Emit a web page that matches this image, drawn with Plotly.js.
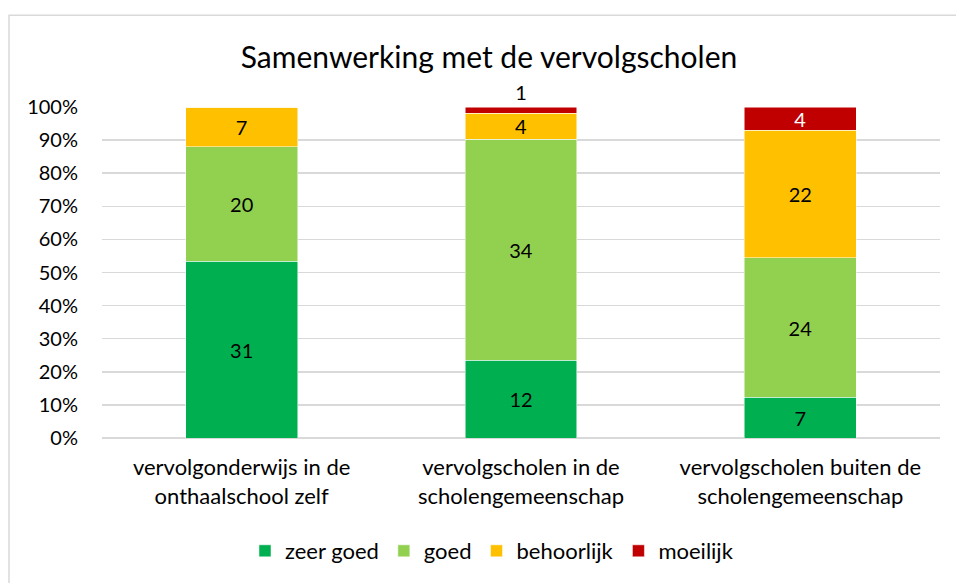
<!DOCTYPE html>
<html>
<head>
<meta charset="utf-8">
<script src="https://cdn.plot.ly/plotly-3.0.1.min.js"></script>
<style>html,body{margin:0;padding:0;background:#fff;}#chart{width:956px;height:583px;}</style>
</head>
<body>
<div id="chart"></div>
<script>
const categories = [
  "vervolgonderwijs in de<br>onthaalschool zelf",
  "vervolgscholen in de<br>scholengemeenschap",
  "vervolgscholen buiten de<br>scholengemeenschap"
];
const seriesNames = ["zeer goed", "goed", "behoorlijk", "moeilijk"];
const zeerGoed = [31, 12, 7];
const goed = [20, 34, 24];
const behoorlijk = [7, 4, 22];
const moeilijk = [0, 1, 4];
const colors = ["#00B050", "#92D050", "#FFC000", "#C00000"];
const yTickVals = [0,10,20,30,40,50,60,70,80,90,100];

const FONT = "Lato, 'Open Sans', sans-serif";
const values = [zeerGoed, goed, behoorlijk, moeilijk];

const traces = values.map((vals, i) => {
  const isTop = i === 3;
  return {
    type: "bar",
    name: seriesNames[i],
    x: categories,
    y: vals,
    text: vals.map(v => v === 0 ? "" : String(v)),
    texttemplate: "%{text}",
    textposition: isTop ? vals.map(v => v === 0 ? "none" : (v === 1 ? "outside" : "inside")) : "inside",
    insidetextanchor: "middle",
    textangle: 0,
    constraintext: "none",
    cliponaxis: false,
    textfont: {family: FONT, size: 20, color: isTop ? vals.map(v => v === 1 ? "#000000" : "#FFFFFF") : "#000000"},
    outsidetextfont: {family: FONT, size: 20, color: "#000000"},
    marker: {color: colors[i], line: {color: "#FFFFFF", width: 0.5}},
    hoverinfo: "skip"
  };
});

const L = 102, R = 16, T = 107, B = 144;
const pw = 956 - L - R, ph = 583 - T - B;

const layout = {
  width: 956, height: 583,
  margin: {l: L, r: R, t: T, b: B, pad: 0},
  paper_bgcolor: "#FFFFFF",
  plot_bgcolor: "#FFFFFF",
  font: {family: FONT, size: 20, color: "#000000"},
  barmode: "stack",
  barnorm: "percent",
  bargap: 0.6,
  title: {
    text: "Samenwerking met de vervolgscholen",
    font: {family: FONT, size: 30, color: "#000000"},
    x: 489/956, xanchor: "center", xref: "container",
    y: 1 - 57/583, yanchor: "middle", yref: "container"
  },
  xaxis: {
    type: "category",
    showgrid: false,
    zeroline: false,
    showline: false,
    ticks: "",
    tickfont: {family: FONT, size: 22, color: "#000000"},
    ticklabelstandoff: 14,
    fixedrange: true
  },
  yaxis: {
    range: [0, 100],
    tickvals: yTickVals,
    ticktext: yTickVals.map(v => v + "%"),
    showgrid: true,
    gridcolor: "#D9D9D9",
    gridwidth: 1.5,
    zeroline: true,
    zerolinecolor: "#D9D9D9",
    zerolinewidth: 1.5,
    showline: false,
    ticks: "",
    tickfont: {family: FONT, size: 20, color: "#000000"},
    ticklabelstandoff: 23,
    fixedrange: true
  },
  legend: {
    orientation: "h",
    x: (492 - L) / pw, xanchor: "center",
    y: (T + ph - 551) / ph, yanchor: "middle",
    font: {family: FONT, size: 22, color: "#000000"},
    traceorder: "normal",
    itemwidth: 30,
    bgcolor: "rgba(0,0,0,0)"
  },
  showlegend: true,
  shapes: [{
    type: "rect", xref: "paper", yref: "paper", layer: "below",
    x0: (9 - L) / pw, x1: (960 - L) / pw,
    y0: (T + ph - 590) / ph, y1: (T + ph - 15) / ph,
    line: {color: "#D9D9D9", width: 1.5}, fillcolor: "rgba(0,0,0,0)"
  }]
};

Plotly.newPlot("chart", traces, layout, {displayModeBar: false, staticPlot: true});
</script>
</body>
</html>
